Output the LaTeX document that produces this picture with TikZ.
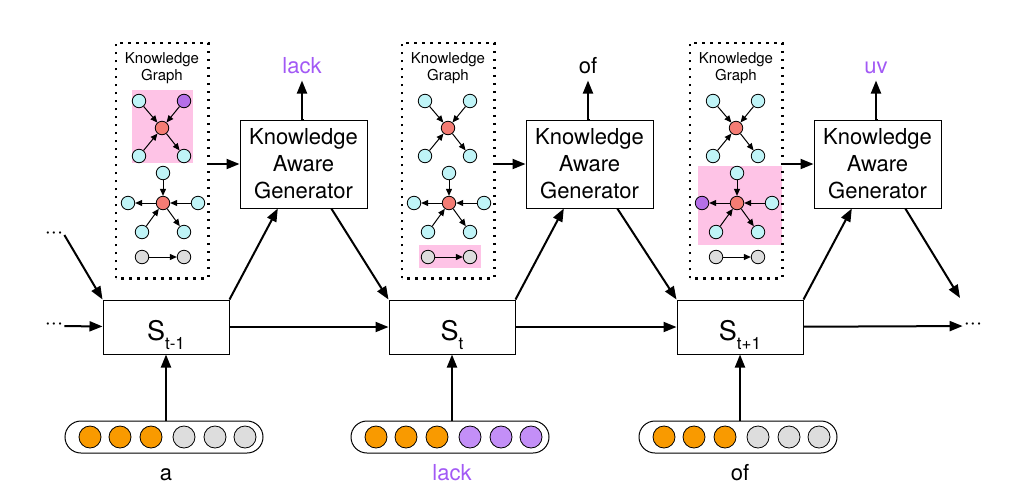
\documentclass[tikz,border=0pt]{standalone}
\usepackage{fontspec}
\setmainfont{TeX Gyre Heros}
\usetikzlibrary{arrows.meta}
\definecolor{kg.cyan}{HTML}{BFF4F7}
\definecolor{kg.red}{HTML}{F47C74}
\definecolor{kg.purple}{HTML}{B56FE8}
\definecolor{kg.gray}{HTML}{DDDDDD}
\definecolor{kg.pink}{HTML}{FEC3E6}
\definecolor{emb.orange}{HTML}{F99A00}
\definecolor{emb.lav}{HTML}{C38FF7}
\definecolor{word.purple}{HTML}{A259F5}

\begin{document}
\begin{tikzpicture}[x=1pt,y=-1pt]
  \tikzset{kgnode/.style={circle, draw=black, line width=0.8pt, fill=kg.cyan,
      inner sep=0, minimum size=13.5pt},
    hub/.style={kgnode, fill=kg.red},
    kgarrow/.style={-{Triangle[length=7pt,width=6pt]}, line width=1pt},
    flow/.style={-{Triangle[length=13pt,width=10pt]}, line width=2pt},
    kgframe/.style={line width=2.5pt, dash pattern=on 2.5pt off 5.5pt,
      minimum width=90pt, minimum height=233pt, inner sep=0},
    kgtitle/.style={align=center, font=\fontsize{15}{17}\selectfont},
    genbox/.style={draw, line width=1pt, align=center, inner sep=0,
      minimum width=127pt, minimum height=88pt,
      font=\fontsize{22}{27}\selectfont},
    statebox/.style={draw, line width=1pt, inner sep=0, minimum width=126pt,
      minimum height=54pt, text height=40pt, text depth=14pt,
      font=\fontsize{27}{30}\selectfont},
    pill/.style={draw, line width=1pt, rounded corners=16pt, inner sep=0,
      minimum width=198pt, minimum height=32pt},
    emb/.style={circle, draw, line width=0.8pt, inner sep=0, minimum size=22pt},
    word/.style={anchor=base, inner sep=0, font=\fontsize{22}{26}\selectfont},
    more/.style={inner sep=1pt, font=\fontsize{22}{22}\selectfont},
    hilite/.style={fill=kg.pink}}
  \useasboundingbox (0,0) rectangle (1019,485);

  % highlighted parts of the graphs
  \fill[hilite] (132,90) rectangle (193,163);
  \fill[hilite] (286+133,245) rectangle (286+195,268);
  \fill[hilite] (574+124,166) rectangle (574+208,245);

  \foreach \c/\dx/\sub/\trfill/\lfill/\embfill/\inword/\incol/\outword/\outcol in {
      1/0/t-1/kg.purple/kg.cyan/kg.gray/a/black/lack/word.purple,
      2/286/t/kg.cyan/kg.cyan/emb.lav/lack/word.purple/of/black,
      3/574/t+1/kg.cyan/kg.purple/kg.gray/of/black/uv/word.purple} {
    \node[kgframe] (kg\c) at (\dx+162,160.5) {};
    \draw[kgframe] (kg\c.south west) rectangle (kg\c.north east);
    \node[kgtitle] (kgt\c) at (\dx+162,68) {Knowledge\\Graph};

    \node[kgnode] (atl\c) at (\dx+139,101) {};
    \node[kgnode, fill=\trfill] (atr\c) at (\dx+184,101) {};
    \node[hub] (a\c) at (\dx+162,128) {};
    \node[kgnode] (abl\c) at (\dx+139,156) {};
    \node[kgnode] (abr\c) at (\dx+184,156) {};

    \node[kgnode] (bt\c) at (\dx+163,173) {};
    \node[hub] (b\c) at (\dx+163,203) {};
    \node[kgnode, fill=\lfill] (bl\c) at (\dx+128,203) {};
    \node[kgnode] (br\c) at (\dx+198,203) {};
    \node[kgnode] (bbl\c) at (\dx+142,232) {};
    \node[kgnode] (bbr\c) at (\dx+184,232) {};

    \node[kgnode, fill=kg.gray] (g\c) at (\dx+142,257) {};
    \node[kgnode, fill=kg.gray] (h\c) at (\dx+184,257) {};

    \draw[kgarrow] (atl\c) -- (a\c);
    \draw[kgarrow] (atr\c) -- (a\c);
    \draw[kgarrow] (abl\c) -- (a\c);
    \draw[kgarrow] (a\c) -- (abr\c);
    \draw[kgarrow] (bt\c) -- (b\c);
    \draw[kgarrow] (b\c) -- (bl\c);
    \draw[kgarrow] (br\c) -- (b\c);
    \draw[kgarrow] (bbl\c) -- (b\c);
    \draw[kgarrow] (b\c) -- (bbr\c);
    \draw[kgarrow] (g\c) -- (h\c);

    % generator and state
    \node[genbox] (kag\c) at (\dx+303.5,164) {Knowledge\\Aware\\Generator};
    \node[word, text=\outcol] (out\c) at (\dx+302,73) {\outword};
    \node[statebox] (s\c) at (\dx+166,327)
      {S\raisebox{-9pt}{\fontsize{17}{17}\selectfont\sub}};

    \draw[flow] (kag\c.west -| kg\c.east) -- (kag\c.west);
    \draw[flow, shorten >=7pt] (kag\c.north) -- (out\c.north |- kag\c.north) -- (out\c.south);
    \draw[flow] (s\c.north east) -- (kag\c.-120);

    % input embedding
    \node[pill] (pill\c) at (\dx+164,437) {};
    \foreach \k/\ex in {1/-74,2/-44,3/-13}
      \node[emb, fill=emb.orange] (e\c-\k) at (\dx+164+\ex,437) {};
    \foreach \k/\ex in {4/20,5/51,6/81}
      \node[emb, fill=\embfill] (e\c-\k) at (\dx+164+\ex,437) {};
    \node[word, text=\incol] (in\c) at (\dx+166,480) {\inword};
    \draw[flow] (s\c.south |- pill\c.north) -- (s\c.south);
  }

  \node[more] (dotsup) at (54,235) {···};
  \node[more] (dotsin) at (54,326) {···};
  \node[more] (dotsout) at (973,326) {···};
  \coordinate (endup) at (960,298);

  \draw[flow] (dotsup.east) -- (s1.north west);
  \draw[flow] (dotsin) -- (s1);
  \draw[flow] (s1) -- (s2);
  \draw[flow] (s2) -- (s3);
  \draw[flow] (s3) -- (dotsout);
  \draw[flow] (kag1.-58) -- (s2.north west);
  \draw[flow] (kag2.-58) -- (s3.north west);
  \draw[flow] (kag3.-58) -- (endup);
\end{tikzpicture}
\end{document}
